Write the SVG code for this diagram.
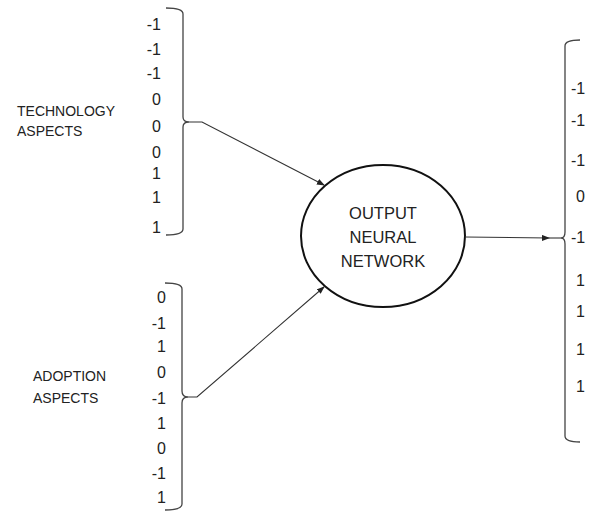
<svg xmlns="http://www.w3.org/2000/svg" width="595" height="512" viewBox="0 0 595 512">
  <defs>
    <marker id="arrow" markerWidth="8" markerHeight="6" refX="7" refY="3" orient="auto" markerUnits="userSpaceOnUse">
      <path d="M0,0 L8,3 L0,6 Z" fill="#222"/>
    </marker>
    <style>
      text { font-family: "Liberation Sans", Arial, sans-serif; fill: #222; }
      .num { font-size: 16px; text-anchor: end; }
      .rnum { font-size: 16px; text-anchor: start; }
      .label { font-size: 14px; }
      .title { font-size: 16.5px; text-anchor: middle; }
      .brace { fill: none; stroke: #444; stroke-width: 1.3; }
      .conn { fill: none; stroke: #333; stroke-width: 1.1; }
    </style>
  </defs>
  <rect width="595" height="512" fill="#fff"/>

  <!-- input vector: technology aspects -->
  <g id="technology">
    <text class="label" x="17" y="116">TECHNOLOGY</text>
    <text class="label" x="17" y="136">ASPECTS</text>
    <text class="num" x="161" y="30">-1</text>
    <text class="num" x="161" y="55">-1</text>
    <text class="num" x="161" y="79">-1</text>
    <text class="num" x="161" y="105">0</text>
    <text class="num" x="161" y="132">0</text>
    <text class="num" x="161" y="158">0</text>
    <text class="num" x="161" y="179">1</text>
    <text class="num" x="161" y="203">1</text>
    <text class="num" x="161" y="233">1</text>
    <path class="brace" d="M166,8 Q183,8 183,14 L183,117 Q183,122 189,122 Q183,122 183,127 L183,229 Q183,235 166,235"/>
  </g>

  <!-- input vector: adoption aspects -->
  <g id="adoption">
    <text class="label" x="33" y="381">ADOPTION</text>
    <text class="label" x="33" y="403">ASPECTS</text>
    <text class="num" x="166" y="303">0</text>
    <text class="num" x="166" y="329">-1</text>
    <text class="num" x="166" y="352">1</text>
    <text class="num" x="166" y="378">0</text>
    <text class="num" x="166" y="404">-1</text>
    <text class="num" x="166" y="429">1</text>
    <text class="num" x="166" y="454">0</text>
    <text class="num" x="166" y="479">-1</text>
    <text class="num" x="166" y="503">1</text>
    <path class="brace" d="M165,283 Q182,283 182,289 L182,391 Q182,397 188,397 Q182,397 182,403 L182,504 Q182,510 165,510"/>
  </g>

  <!-- network node -->
  <g id="network">
    <ellipse cx="383" cy="236" rx="82" ry="71" fill="#fff" stroke="#111" stroke-width="2"/>
    <text class="title" x="383" y="219">OUTPUT</text>
    <text class="title" x="383" y="243">NEURAL</text>
    <text class="title" x="383" y="267">NETWORK</text>
  </g>

  <!-- output vector -->
  <g id="output">
    <path class="brace" d="M580,40 Q565,40 565,46 L565,232 Q565,238 561,238 Q565,238 565,244 L565,436 Q565,442 580,442"/>
    <text class="rnum" x="571" y="94">-1</text>
    <text class="rnum" x="571" y="126">-1</text>
    <text class="rnum" x="571" y="166">-1</text>
    <text class="rnum" x="576" y="202">0</text>
    <text class="rnum" x="571" y="243">-1</text>
    <text class="rnum" x="576" y="286">1</text>
    <text class="rnum" x="576" y="317">1</text>
    <text class="rnum" x="576" y="355">1</text>
    <text class="rnum" x="576" y="392">1</text>
  </g>

  <!-- connectors -->
  <g id="connectors">
    <path class="conn" d="M189,122 L202,122 L324,185" marker-end="url(#arrow)"/>
    <path class="conn" d="M188,397 L197,397 L324,287" marker-end="url(#arrow)"/>
    <path class="conn" d="M465,237 L549,238" marker-end="url(#arrow)"/>
    <path class="conn" d="M549,238 L561,238"/>
  </g>
</svg>
